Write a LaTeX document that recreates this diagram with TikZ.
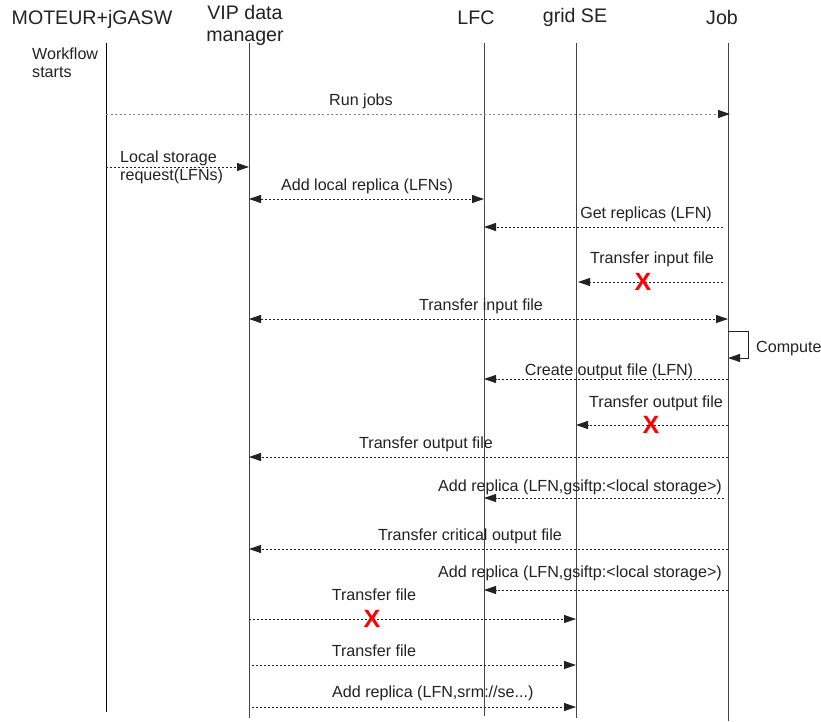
\documentclass[tikz,border=0pt]{standalone}
\usepackage{fontspec}
\setmainfont{Liberation Sans}
\usetikzlibrary{arrows.meta}
\definecolor{ink}{HTML}{222222}
\definecolor{life}{HTML}{444444}
\begin{document}
\begin{tikzpicture}[x=1pt,y=-1pt,
  hdr/.style={font=\fontsize{19.6}{22}\selectfont, text=ink, inner sep=0pt, anchor=base},
  lbl/.style={font=\fontsize{16.1}{18}\selectfont, text=ink, inner sep=0pt, anchor=base},
  lifeline/.style={draw=life, line width=1pt},
  tip/.tip={Triangle[length=12pt,width=8pt,color=ink]},
  msg/.style={draw=ink, line width=0.9pt, dash pattern=on 2pt off 2pt, -tip},
  msgboth/.style={msg, tip-tip},
  fail/.style={text=red, font=\fontsize{25}{25}\selectfont\bfseries, inner sep=0pt}
]
\useasboundingbox (0,0) rectangle (821,722);
% headers
\node[hdr] (hM) at (92,25) {MOTEUR+jGASW};
\node[hdr] (hV) at (245,20) {VIP data};
\node[hdr] (hV2) at (245,42) {manager};
\node[hdr] (hL) at (476,25) {LFC};
\node[hdr] (hS) at (575,23) {grid SE};
\node[hdr] (hJ) at (722,25) {Job};
\node[lbl, anchor=base west] (ws1) at (32,60) {Workflow};
\node[lbl, anchor=base west] (ws2) at (32,78) {starts};
% lifelines
\coordinate (lM) at (106,43); \coordinate (lMb) at (106,712);
\coordinate (lV) at (249,43); \coordinate (lVb) at (249,718);
\coordinate (lL) at (484,43); \coordinate (lLb) at (484,716);
\coordinate (lS) at (576,43); \coordinate (lSb) at (576,718);
\coordinate (lJ) at (728,43); \coordinate (lJb) at (728,721);
\draw[lifeline, draw=black] (lM) -- (lMb);
\draw[lifeline] (lV) -- (lVb);
\draw[lifeline] (lL) -- (lLb);
\draw[lifeline] (lS) -- (lSb);
\draw[lifeline] (lJ) -- (lJb);
% 1 run jobs
\node[lbl] (t1) at (361,106) {Run jobs};
\draw[msg, draw=gray, dash pattern=on 2pt off 2.5pt] (lM |- 0,114) -- ([xshift=2pt]lJ |- 0,114);
% 2 local storage request
\node[lbl, anchor=base west] (t2a) at (120,163) {Local storage};
\node[lbl, anchor=base west] (t2b) at (120,181) {request(LFNs)};
\draw[msg] (lM |- 0,167) -- (lV |- 0,167);
% 3 add local replica
\node[lbl] (t3) at (367,190) {Add local replica (LFNs)};
\draw[msgboth] (lV |- 0,199) -- (lL |- 0,199);
% 4 get replicas
\node[lbl] (t4) at (646,218) {Get replicas (LFN)};
\draw[msg] ([xshift=-5pt]lJ |- 0,227) -- (lL |- 0,227);
% 5 transfer input file (failed)
\node[lbl] (t5) at (652,263) {Transfer input file};
\draw[msg] ([xshift=-5pt]lJ |- 0,282) -- ([xshift=2pt]lS |- 0,282);
\node[fail] (x5) at (643,282) {X};
% 6 transfer input file
\node[lbl] (t6) at (481,310) {Transfer input file};
\draw[msgboth] (lV |- 0,319) -- (lJ |- 0,319);
% 7 compute
\coordinate (c1) at (748,331);
\draw[draw=ink, line width=0.9pt, -tip] (lJ |- c1) -- (c1) -- (c1 |- 0,358) -- (lJ |- 0,358);
\node[lbl, anchor=base west] (t7) at (756,352) {Compute};
% 8 create output file
\node[lbl] (t8) at (609,375) {Create output file (LFN)};
\draw[msg] (lJ |- 0,379) -- (lL |- 0,379);
% 9 transfer output file (failed)
\node[lbl] (t9) at (656,407) {Transfer output file};
\draw[msg] (lJ |- 0,425) -- (lS |- 0,425);
\node[fail] (x9) at (651,425) {X};
% 10 transfer output file
\node[lbl] (t10) at (426,448) {Transfer output file};
\draw[msg] (lJ |- 0,457) -- (lV |- 0,457);
% 11 add replica
\node[lbl] (t11) at (580,491) {Add replica (LFN,gsiftp:<local storage>)};
\draw[msg] ([xshift=-4pt]lJ |- 0,498) -- (lL |- 0,498);
% 12 transfer critical output file
\node[lbl] (t12) at (470,540) {Transfer critical output file};
\draw[msg] (lJ |- 0,549) -- (lV |- 0,549);
% 13 add replica
\node[lbl] (t13) at (580,577) {Add replica (LFN,gsiftp:<local storage>)};
\draw[msg] (lJ |- 0,590) -- (lL |- 0,590);
% 14 transfer file (failed)
\node[lbl] (t14) at (374,600) {Transfer file};
\draw[msg] (lV |- 0,619) -- (lS |- 0,619);
\node[fail] (x14) at (372,619) {X};
% 15 transfer file
\node[lbl] (t15) at (374,656) {Transfer file};
\draw[msg] ([xshift=3pt]lV |- 0,665) -- (lS |- 0,665);
% 16 add replica srm
\node[lbl, anchor=base west] (t16) at (332,697) {Add replica (LFN,srm://se...)};
\draw[msg] ([xshift=3pt]lV |- 0,707) -- (lS |- 0,707);
\end{tikzpicture}
\end{document}
